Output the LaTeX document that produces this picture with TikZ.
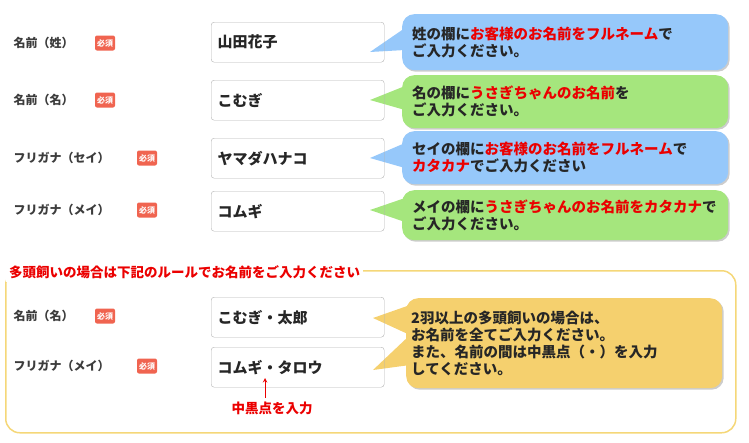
\documentclass[tikz,border=0pt]{standalone}
\usepackage{fontspec}
\setmainfont{Noto Sans CJK JP}
\usetikzlibrary{positioning,shadows}
\definecolor{badgered}{RGB}{240,100,80}
\definecolor{bubbleblue}{RGB}{150,200,250}
\definecolor{bubblegreen}{RGB}{165,230,125}
\definecolor{bubbleyellow}{RGB}{245,208,110}
\definecolor{frameyellow}{RGB}{245,215,120}
\definecolor{textred}{RGB}{235,0,0}
\definecolor{labelgray}{RGB}{60,60,60}
\tikzset{
  fieldlabel/.style={anchor=west, font=\bfseries\fontsize{12}{14}\selectfont, text=labelgray},
  badge/.style={fill=badgered, rounded corners=2pt, text=white, font=\bfseries\fontsize{8}{9}\selectfont, inner sep=2pt, minimum height=15pt},
  inputbox/.style={draw=gray!60, rounded corners=3pt, minimum width=173pt, minimum height=40pt, anchor=north west, text width=160pt, font=\bfseries\fontsize{15}{17}\selectfont, text=black!85},
  bubble/.style={rounded corners=12pt, anchor=north west, minimum width=326pt, text width=306pt, align=left, font=\bfseries\fontsize{14.5}{17}\selectfont, text=black!85, drop shadow={shadow xshift=1.5pt, shadow yshift=-1.5pt, opacity=0.4}}
}
\newcommand{\hlred}[1]{\textcolor{textred}{#1}}
\begin{document}
\begin{tikzpicture}[x=1pt,y=-1pt]
  \useasboundingbox (0,0) rectangle (749,442);
  % group frame
  \node[draw=frameyellow, line width=1.5pt, rounded corners=14pt, minimum width=730pt, minimum height=162pt, anchor=north west] (group) at (5,270) {};
  \node[fill=white, anchor=west, inner xsep=3pt, font=\bfseries\fontsize{13.5}{15}\selectfont, text=textred] (grouptitle) at (6,272) {多頭飼いの場合は下記のルールでお名前をご入力ください};
  % tails
  \fill[bubbleblue] (405,28) -- (370,52) -- (405,50) -- cycle;
  \fill[bubblegreen] (405,86) -- (370,100) -- (405,110) -- cycle;
  \fill[bubbleblue] (405,143) -- (370,158) -- (405,168) -- cycle;
  \fill[bubblegreen] (405,198) -- (370,210) -- (405,222) -- cycle;
  \fill[bubbleyellow] (410,305) -- (373,318) -- (410,335) -- (373,370) -- (410,365) -- cycle;
  % bubbles
  \node[bubble, fill=bubbleblue, minimum height=56pt] (tipsei) at (402,14) {姓の欄に\hlred{お客様のお名前をフルネーム}で\\ご入力ください。};
  \node[bubble, fill=bubblegreen, minimum height=53pt] (tipmei) at (402,75) {名の欄に\hlred{うさぎちゃんのお名前}を\\ご入力ください。};
  \node[bubble, fill=bubbleblue, minimum height=53pt] (tipseikana) at (402,131) {セイの欄に\hlred{お客様のお名前をフルネーム}で\\\hlred{カタカナ}でご入力ください};
  \node[bubble, fill=bubblegreen, minimum height=50pt] (tipmeikana) at (402,190) {メイの欄に\hlred{うさぎちゃんのお名前をカタカナ}で\\ご入力ください。};
  \node[bubble, fill=bubbleyellow, minimum width=316pt, minimum height=90pt] (tipmulti) at (406,298) {2羽以上の多頭飼いの場合は、\\お名前を全てご入力ください。\\また、名前の間は中黒点（・）を入力\\してください。};
  % rows
  \node[fieldlabel] (lsei) at (10,43) {名前（姓）};
  \node[badge] (bsei) at (105,43) {必須};
  \node[inputbox] (isei) at (211,22) {山田花子};
  \node[fieldlabel] (lmei) at (10,100) {名前（名）};
  \node[badge] (bmei) at (105,100) {必須};
  \node[inputbox] (imei) at (211,80) {こむぎ};
  \node[fieldlabel] (lseikana) at (10,158) {フリガナ（セイ）};
  \node[badge] (bseikana) at (147,158) {必須};
  \node[inputbox] (iseikana) at (211,138) {ヤマダハナコ};
  \node[fieldlabel] (lmeikana) at (10,210) {フリガナ（メイ）};
  \node[badge] (bmeikana) at (147,210) {必須};
  \node[inputbox] (imeikana) at (211,191) {コムギ};
  \node[fieldlabel] (lmulti) at (10,316) {名前（名）};
  \node[badge] (bmulti) at (105,316) {必須};
  \node[inputbox] (imulti) at (211,297) {こむぎ・太郎};
  \node[fieldlabel] (lmultikana) at (10,366) {フリガナ（メイ）};
  \node[badge] (bmultikana) at (147,366) {必須};
  \node[inputbox] (imultikana) at (211,347) {コムギ・タロウ};
  % note
  \node[font=\bfseries\fontsize{13.5}{15}\selectfont, text=textred] (note) at (272,408) {中黒点を入力};
  \coordinate (dot) at (265,378);
  \draw[textred, line width=1pt, ->, >=stealth] (note.north -| dot) -- (dot);
\end{tikzpicture}
\end{document}
